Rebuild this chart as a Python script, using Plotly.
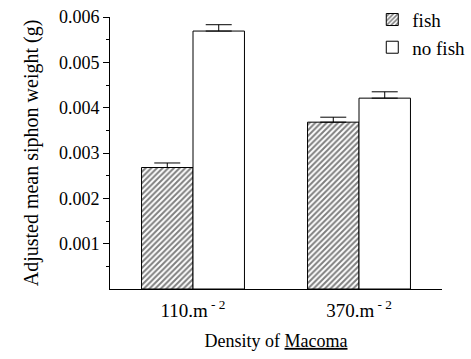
import plotly.graph_objects as go

categories = ["110.m<sup> - 2</sup>", "370.m<sup> - 2</sup>"]
fish = [0.00268, 0.00368]
fish_err = [0.00010, 0.00011]
nofish = [0.00569, 0.00421]
nofish_err = [0.00014, 0.00014]
yticks = [0.001, 0.002, 0.003, 0.004, 0.005, 0.006]
yminor = [0.0005, 0.0015, 0.0025, 0.0035, 0.0045, 0.0055]

FONT = "Liberation Serif, Times New Roman, serif"

fig = go.Figure()
fig.add_trace(go.Bar(
    name="fish", x=categories, y=fish,
    marker=dict(color="white", line=dict(color="black", width=1),
                pattern=dict(shape="/", fgcolor="black", bgcolor="white", size=4, solidity=0.5)),
    error_y=dict(type="data", array=fish_err, arrayminus=[0, 0], symmetric=False,
                 color="black", thickness=1, width=13),
))
fig.add_trace(go.Bar(
    name="no fish", x=categories, y=nofish,
    marker=dict(color="white", line=dict(color="black", width=1)),
    error_y=dict(type="data", array=nofish_err, arrayminus=[0, 0], symmetric=False,
                 color="black", thickness=1, width=13),
))

fig.update_layout(
    width=471, height=359,
    margin=dict(l=110, r=1, t=15, b=70),
    paper_bgcolor="white", plot_bgcolor="white",
    barmode="group", bargap=0.38, bargroupgap=0,
    font=dict(family=FONT, size=18, color="black"),
    showlegend=True,
    legend=dict(x=0.79, y=1.06, xanchor="left", yanchor="top",
                bgcolor="rgba(0,0,0,0)", font=dict(size=19, family=FONT),
                itemwidth=30, tracegroupgap=0),
    xaxis=dict(showline=True, linecolor="black", linewidth=1, ticks="",
               tickfont=dict(size=19, family=FONT), ticklabelstandoff=4,
               title=dict(text='Density of <span style="text-decoration:underline">Macoma</span>',
                          font=dict(size=18, family=FONT), standoff=14),
               range=[-0.5, 1.5]),
    yaxis=dict(range=[0, 0.006], showline=True, linecolor="black", linewidth=1,
               ticks="outside", ticklen=6, tickcolor="black",
               tickvals=yticks, tickformat=".3f", showgrid=False, zeroline=False,
               tickfont=dict(size=18, family=FONT),
               minor=dict(ticks="outside", ticklen=3, tickcolor="black", tickvals=yminor),
               title=dict(text="Adjusted mean siphon weight (g)",
                          font=dict(size=20, family=FONT), standoff=14)),
)

fig.write_html("out.html")
